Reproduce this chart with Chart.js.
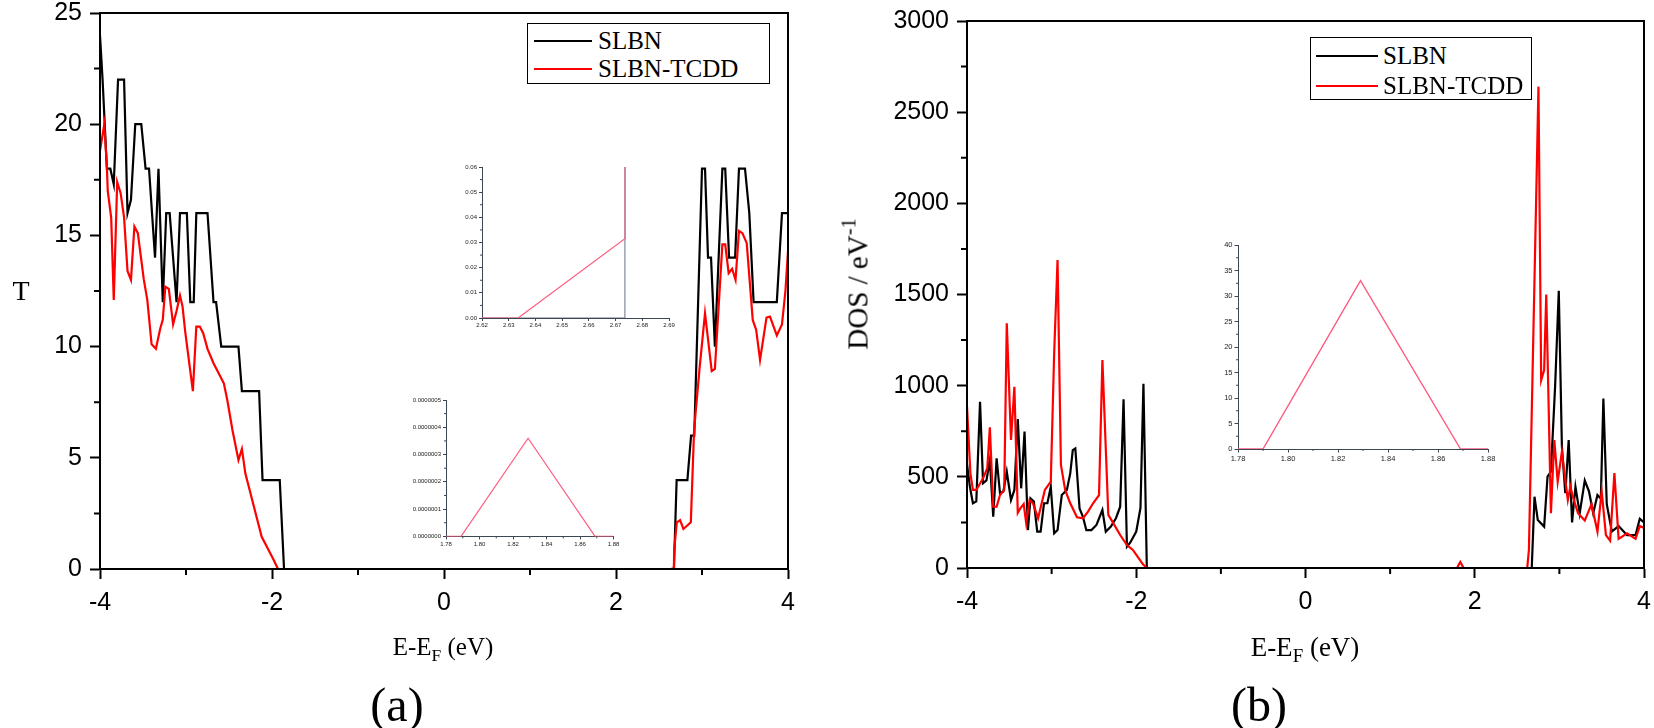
<!DOCTYPE html>
<html>
<head>
<meta charset="utf-8">
<script src="https://cdn.jsdelivr.net/npm/chart.js@4.4.1/dist/chart.umd.min.js"></script>
<style>
body{margin:0;background:#fff;width:1654px;height:728px;overflow:hidden;position:relative;font-family:'Liberation Serif','Times New Roman',serif;}
canvas{position:absolute;}
.lbl{position:absolute;transform:translate(-50%,-50%);white-space:nowrap;color:#000;}
.lbl sub{font-size:70%;vertical-align:-0.35em;line-height:0;}
.lbl sup{font-size:70%;vertical-align:0.6em;line-height:0;}
.legend{position:absolute;border:1.5px solid #000;background:#fff;box-sizing:border-box;}
.legend .row{position:absolute;left:0;right:0;height:30px;}
.legend .ln{position:absolute;top:14px;height:0;border-top:2px solid #000;}
.legend .tx{position:absolute;top:0;line-height:30px;font-size:25px;white-space:nowrap;}
</style>
</head>
<body>
<canvas id="chartT" width="827" height="728" style="left:0;top:0"></canvas>
<canvas id="chartDOS" width="827" height="728" style="left:827px;top:0"></canvas>
<canvas id="inset1" width="260" height="190" style="left:430px;top:150px"></canvas>
<canvas id="inset2" width="235" height="175" style="left:400px;top:385px"></canvas>
<canvas id="inset3" width="310" height="245" style="left:1200px;top:230px"></canvas>

<div class="lbl" style="left:21px;top:291px;font-size:28px">T</div>
<div class="lbl" style="left:858px;top:284px;font-size:29px;transform:translate(-50%,-50%) rotate(-90deg)">DOS / eV<sup>-1</sup></div>
<div class="lbl" style="left:443px;top:647px;font-size:25px">E-E<sub>F</sub> (eV)</div>
<div class="lbl" style="left:1305px;top:647px;font-size:27px">E-E<sub>F</sub> (eV)</div>
<div class="lbl" style="left:397px;top:704px;font-size:48px">(a)</div>
<div class="lbl" style="left:1259px;top:704px;font-size:48px">(b)</div>

<div class="legend" style="left:527px;top:23px;width:243px;height:61px">
  <div class="row" style="top:2px"><div class="ln" style="left:6px;width:58px;border-color:#000"></div><div class="tx" style="left:70px">SLBN</div></div>
  <div class="row" style="top:30px"><div class="ln" style="left:6px;width:58px;border-color:#f00"></div><div class="tx" style="left:70px">SLBN-TCDD</div></div>
</div>
<div class="legend" style="left:1310px;top:37px;width:222px;height:63px">
  <div class="row" style="top:3px"><div class="ln" style="left:5px;width:62px;border-color:#000"></div><div class="tx" style="left:72px">SLBN</div></div>
  <div class="row" style="top:33px"><div class="ln" style="left:5px;width:62px;border-color:#f00"></div><div class="tx" style="left:72px">SLBN-TCDD</div></div>
</div>

<script>
// (a) transmission, SLBN
var tE_slbn = [-4.00,-3.97,-3.92,-3.88,-3.84,-3.79,-3.72,-3.68,-3.64,-3.59,-3.52,-3.47,-3.43,-3.36,-3.32,-3.27,-3.23,-3.19,-3.11,-3.07,-2.99,-2.95,-2.91,-2.88,-2.75,-2.68,-2.65,-2.59,-2.39,-2.35,-2.15,-2.11,-1.91,-1.86,2.6735,2.705,2.83,2.873,2.91,3.00,3.035,3.07,3.105,3.15,3.237,3.27,3.315,3.385,3.43,3.50,3.55,3.60,3.87,3.93,4.00];
var t_slbn  = [24,22,18,18,17.3,22,22,16,16.6,20,20,18,18,14,18,12,16,16,12,16,16,12,12,16,16,12,12,10,10,8,8,4,4,0,0,4,4,6,6,18,18,14,14,10,18,18,14,14,18,18,16,12,12,16,16];
// (a) transmission, SLBN-TCDD
var tE_tcdd = [-4.00,-3.95,-3.92,-3.91,-3.87,-3.84,-3.80,-3.76,-3.72,-3.68,-3.64,-3.60,-3.56,-3.49,-3.45,-3.40,-3.35,-3.30,-3.27,-3.24,-3.20,-3.15,-3.11,-3.07,-3.04,-3.01,-2.92,-2.88,-2.84,-2.80,-2.75,-2.68,-2.56,-2.52,-2.46,-2.39,-2.35,-2.31,-2.21,-2.12,-2.04,-1.98,-1.93,2.6335,2.6736,2.676,2.707,2.745,2.784,2.87,2.908,2.97,3.035,3.113,3.15,3.237,3.27,3.31,3.35,3.39,3.43,3.47,3.52,3.59,3.63,3.675,3.75,3.79,3.87,3.93,3.97,4.00];
var t_tcdd  = [18.8,20.0,18.1,17,15.8,12.1,17.4,16.9,15.8,13.4,13.0,15.4,15.1,13.0,12.1,10.1,9.9,10.8,11.2,12.7,12.6,11.0,11.6,12.3,11.8,10.7,8.0,10.9,10.9,10.6,9.9,9.25,8.35,7.6,6.25,4.9,5.4,4.3,2.8,1.45,0.85,0.4,0,0,0.0316,0.85,2.1,2.2,1.8,2.1,6.25,8.95,11.5,8.9,9.0,14.6,14.6,13.3,13.5,13.0,15.2,15.1,14.65,11.2,10.75,9.4,11.3,11.35,10.5,11.0,12.5,14.3];

// (b) DOS, SLBN
var dE_slbn = [-4.00,-3.966,-3.93,-3.89,-3.846,-3.81,-3.77,-3.73,-3.69,-3.65,-3.61,-3.57,-3.53,-3.48,-3.44,-3.40,-3.36,-3.32,-3.28,-3.25,-3.21,-3.17,-3.13,-3.09,-3.05,-3.01,-2.97,-2.93,-2.88,-2.82,-2.78,-2.75,-2.72,-2.67,-2.63,-2.59,-2.53,-2.47,-2.40,-2.36,-2.30,-2.24,-2.19,-2.15,-2.11,-2.07,-2.00,-1.95,-1.915,-1.875,2.6735,2.706,2.745,2.82,2.86,2.90,2.95,2.993,3.03,3.07,3.11,3.15,3.19,3.24,3.30,3.35,3.40,3.45,3.49,3.52,3.56,3.62,3.70,3.80,3.90,3.95,4.00];
var dos_slbn = [570,446,355,365,912,465,480,592,281,602,410,420,528,373,428,817,437,748,208,382,364,199,199,355,355,446,190,208,400,428,519,647,656,327,281,208,208,236,318,199,227,273,336,925,117,140,200,330,1010,0,0,391,263,227,501,528,1000,1520,665,410,702,250,446,300,480,420,300,400,380,930,350,200,230,180,180,270,250];
// (b) DOS, SLBN-TCDD
var dE_tcdd = [-4.00,-3.96,-3.93,-3.89,-3.81,-3.76,-3.73,-3.69,-3.65,-3.61,-3.56,-3.53,-3.48,-3.44,-3.40,-3.37,-3.33,-3.30,-3.26,-3.22,-3.16,-3.08,-3.01,-2.97,-2.93,-2.89,-2.84,-2.78,-2.70,-2.63,-2.57,-2.51,-2.44,-2.40,-2.33,-2.27,-2.19,-2.11,-2.04,-1.98,-1.92,-1.875,1.79,1.829,1.869,2.62,2.64,2.753,2.785,2.82,2.845,2.90,2.94,2.98,3.03,3.06,3.10,3.13,3.16,3.22,3.30,3.38,3.45,3.50,3.55,3.60,3.65,3.70,3.80,3.90,3.95,4.00];
var dos_tcdd = [885,519,428,428,492,547,772,336,336,400,428,1342,702,994,303,327,351,245,373,355,273,428,473,1177,1689,565,428,355,278,273,309,355,400,1141,291,245,181,126,99,60,20,0,0,33,0,0,100,2640,1031,1086,1500,300,702,473,638,519,373,446,391,300,260,350,200,420,180,150,520,160,190,160,230,220];

// insets
var in1E_slbn = [2.62,2.6735,2.6735];
var in1_slbn  = [0,0,0.2];
var in1E_tcdd = [2.62,2.6335,2.6736,2.6736];
var in1_tcdd  = [0,0,0.0316,0.2];
var in2E_tcdd = [1.78,1.789,1.829,1.869,1.88];
var in2_tcdd  = [0,0,3.6e-7,0,0];
var in3E_tcdd = [1.78,1.79,1.829,1.869,1.88];
var in3_tcdd  = [0,0,33,0,0];

// tick values
var mainXTicks = [-4,-2,0,2,4];
var tYTicks = [0,5,10,15,20,25];
var dosYTicks = [0,500,1000,1500,2000,2500,3000];
var in1XTicks = [2.62,2.63,2.64,2.65,2.66,2.67,2.68,2.69];
var in1YTicks = [0,0.01,0.02,0.03,0.04,0.05,0.06];
var in2XTicks = [1.78,1.80,1.82,1.84,1.86,1.88];
var in2YTicks = [0,1e-7,2e-7,3e-7,4e-7,5e-7];
var in3YTicks = [0,5,10,15,20,25,30,35,40];

function pts(xs, ys) {
	return xs.map(function(x, i) { return {x: x, y: ys[i]}; });
}

// small ticks half way between the labelled ones
var minorTicks = {
	id: 'minorTicks',
	afterDraw: function(chart, args, opts) {
		if (!opts || !opts.len) return;
		var ctx = chart.ctx, a = chart.chartArea;
		var xs = chart.scales.x, ys = chart.scales.y;
		ctx.save();
		ctx.strokeStyle = opts.color;
		ctx.lineWidth = opts.width;
		ctx.beginPath();
		var k, v, p;
		if (opts.xStep) {
			for (k = 1; (v = xs.min + k * opts.xStep) < xs.max + 1e-12; k += 2) {
				p = xs.getPixelForValue(v);
				ctx.moveTo(p, a.bottom);
				ctx.lineTo(p, a.bottom + opts.len);
			}
		}
		if (opts.yStep) {
			for (k = 1; (v = ys.min + k * opts.yStep) < ys.max + 1e-12; k += 2) {
				p = ys.getPixelForValue(v);
				ctx.moveTo(a.left, p);
				ctx.lineTo(a.left - opts.len, p);
			}
		}
		ctx.stroke();
		ctx.restore();
	}
};

var frame = {
	id: 'frame',
	afterDraw: function(chart, args, opts) {
		if (!opts || !opts.on) return;
		var a = chart.chartArea, ctx = chart.ctx;
		ctx.save();
		ctx.strokeStyle = '#000';
		ctx.lineWidth = 2;
		ctx.strokeRect(a.left, a.top, a.right - a.left, a.bottom - a.top);
		ctx.restore();
	}
};

function makeChart(id, o) {
	var tickFont = {family: "'Liberation Sans', Arial, sans-serif", size: o.fontSize};
	return new Chart(document.getElementById(id), {
		type: 'line',
		data: {datasets: o.sets},
		options: {
			animation: false,
			responsive: false,
			layout: {padding: {left: 0, top: o.top, right: o.right, bottom: 0}},
			elements: {point: {radius: 0}, line: {tension: 0}},
			plugins: {
				legend: {display: false},
				tooltip: {enabled: false},
				minorTicks: o.minor,
				frame: {on: o.frame}
			},
			scales: {
				x: {
					type: 'linear', min: o.xMin, max: o.xMax,
					afterFit: function(s) { s.height = o.xH; s.paddingLeft = 0; s.paddingRight = 0; },
					afterBuildTicks: function(s) { s.ticks = o.xTicks.map(function(v) { return {value: v}; }); },
					ticks: {font: tickFont, color: o.labelColor, padding: o.xPad, maxRotation: 0, autoSkip: false,
						callback: function(v) { return o.xFmt(v); }},
					grid: {drawOnChartArea: false, tickLength: o.tickLen, color: o.axisColor, tickWidth: o.axisW},
					border: {color: o.axisColor, width: o.axisW}
				},
				y: {
					type: 'linear', min: o.yMin, max: o.yMax,
					afterFit: function(s) { s.width = o.yW; s.paddingTop = 0; s.paddingBottom = 0; },
					afterBuildTicks: function(s) { s.ticks = o.yTicks.map(function(v) { return {value: v}; }); },
					ticks: {font: tickFont, color: o.labelColor, padding: o.yPad, autoSkip: false,
						callback: function(v) { return o.yFmt(v); }},
					grid: {drawOnChartArea: false, tickLength: o.tickLen, color: o.axisColor, tickWidth: o.axisW},
					border: {color: o.axisColor, width: o.axisW}
				}
			}
		},
		plugins: [minorTicks, frame]
	});
}

function plain(v) { return String(v); }

makeChart('chartT', {
	sets: [
		{data: pts(tE_tcdd, t_tcdd), borderColor: '#f00', borderWidth: 2.2, order: 0},
		{data: pts(tE_slbn, t_slbn), borderColor: '#000', borderWidth: 2.2, order: 1}
	],
	xMin: -4, xMax: 4, yMin: 0, yMax: 25,
	xTicks: mainXTicks, yTicks: tYTicks, xFmt: plain, yFmt: plain,
	top: 13, right: 39, xH: 159, yW: 100,
	fontSize: 25, labelColor: '#000', axisColor: '#000', axisW: 2, tickLen: 10, xPad: 9, yPad: 8,
	minor: {xStep: 1, yStep: 2.5, len: 6, width: 2, color: '#000'}, frame: true
});

makeChart('chartDOS', {
	sets: [
		{data: pts(dE_tcdd, dos_tcdd), borderColor: '#f00', borderWidth: 2.2, order: 0},
		{data: pts(dE_slbn, dos_slbn), borderColor: '#000', borderWidth: 2.2, order: 1}
	],
	xMin: -4, xMax: 4, yMin: 0, yMax: 3000,
	xTicks: mainXTicks, yTicks: dosYTicks, xFmt: plain, yFmt: plain,
	top: 21, right: 10, xH: 160, yW: 140,
	fontSize: 25, labelColor: '#000', axisColor: '#000', axisW: 2, tickLen: 10, xPad: 9, yPad: 8,
	minor: {xStep: 1, yStep: 250, len: 6, width: 2, color: '#000'}, frame: true
});

makeChart('inset1', {
	sets: [
		{data: pts(in1E_tcdd, in1_tcdd), borderColor: '#ff5c80', borderWidth: 1.2, order: 0},
		{data: pts(in1E_slbn, in1_slbn), borderColor: '#6a7380', borderWidth: 1, order: 1}
	],
	xMin: 2.62, xMax: 2.69, yMin: 0, yMax: 0.06,
	xTicks: in1XTicks, yTicks: in1YTicks,
	xFmt: function(v) { return v.toFixed(2); }, yFmt: function(v) { return v.toFixed(2); },
	top: 17, right: 21, xH: 22, yW: 52,
	fontSize: 6, labelColor: '#222', axisColor: '#3c4654', axisW: 1, tickLen: 3, xPad: 1, yPad: 2,
	minor: {xStep: 0, yStep: 0.005, len: 2, width: 1, color: '#3c4654'}, frame: false
});

makeChart('inset2', {
	sets: [
		{data: pts(in2E_tcdd, in2_tcdd), borderColor: '#ff5c80', borderWidth: 1.2}
	],
	xMin: 1.78, xMax: 1.88, yMin: 0, yMax: 5e-7,
	xTicks: in2XTicks, yTicks: in2YTicks,
	xFmt: function(v) { return v.toFixed(2); }, yFmt: function(v) { return v.toFixed(7); },
	top: 15, right: 21.5, xH: 23.6, yW: 46,
	fontSize: 6, labelColor: '#222', axisColor: '#3c4654', axisW: 1, tickLen: 3, xPad: 1, yPad: 2,
	minor: {xStep: 0.01, yStep: 5e-8, len: 2, width: 1, color: '#3c4654'}, frame: false
});

makeChart('inset3', {
	sets: [
		{data: pts(in3E_tcdd, in3_tcdd), borderColor: '#ff5c80', borderWidth: 1.4}
	],
	xMin: 1.78, xMax: 1.88, yMin: 0, yMax: 40,
	xTicks: in2XTicks, yTicks: in3YTicks,
	xFmt: function(v) { return v.toFixed(2); }, yFmt: plain,
	top: 15, right: 22, xH: 26, yW: 38,
	fontSize: 7.5, labelColor: '#222', axisColor: '#3c4654', axisW: 1, tickLen: 3.5, xPad: 2, yPad: 2,
	minor: {xStep: 0.01, yStep: 2.5, len: 2, width: 1, color: '#3c4654'}, frame: false
});
</script>
</body>
</html>
